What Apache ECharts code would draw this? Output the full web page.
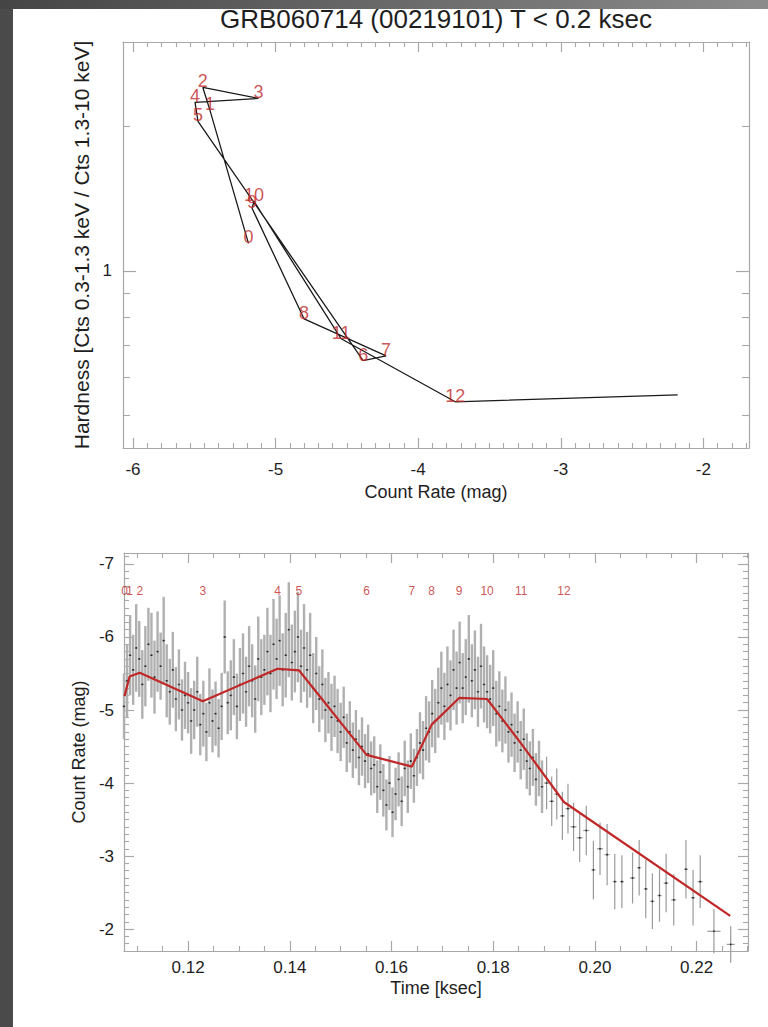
<!DOCTYPE html>
<html><head><meta charset="utf-8">
<script src="https://cdn.jsdelivr.net/npm/echarts@6/dist/echarts.min.js"></script>
<style>html,body{margin:0;padding:0;background:#fff}#c{width:768px;height:1027px}</style>
</head><body><div id="c"></div>
<script>
// ---------------- data ----------------
const titleText = 'GRB060714 (00219101) T < 0.2 ksec';
// segment vertices (labels 0..12 + end point)
const segLabels = ['0','1','2','3','4','5','6','7','8','9','10','11','12'];
const segRate = [-5.19,-5.46,-5.51,-5.12,-5.565,-5.544,-4.386,-4.225,-4.80,-5.165,-5.151,-4.54,-3.74,-2.18];
const segHardness = [1.140,2.155,2.405,2.282,2.239,2.045,0.650,0.665,0.794,1.349,1.395,0.722,0.534,0.552];
const segTime = [0.1075,0.1085,0.1105,0.1229,0.1376,0.1418,0.1551,0.1640,0.1679,0.1733,0.1788,0.1855,0.1939,0.2266];

// light curve
const lcTime = [
0.1074,0.1080,0.1086,0.1092,0.1098,0.1104,0.1110,0.1116,0.1122,0.1128,
0.1134,0.1140,0.1146,0.1152,0.1158,0.1164,0.1170,0.1176,0.1182,0.1188,
0.1194,0.1200,0.1206,0.1212,0.1218,0.1224,0.1230,0.1236,0.1242,0.1248,
0.1254,0.1260,0.1266,0.1272,0.1278,0.1284,0.1290,0.1296,0.1302,0.1308,
0.1314,0.1320,0.1326,0.1332,0.1338,0.1344,0.1350,0.1356,0.1362,0.1368,
0.1374,0.1380,0.1386,0.1392,0.1398,0.1404,0.1410,0.1416,0.1422,0.1428,
0.1434,0.1440,0.1446,0.1452,0.1458,0.1464,0.1470,0.1476,0.1482,0.1488,
0.1494,0.1500,0.1506,0.1512,0.1518,0.1524,0.1530,0.1536,0.1542,0.1548,
0.1554,0.1560,0.1566,0.1572,0.1578,0.1584,0.1590,0.1596,0.1602,0.1608,
0.1614,0.1620,0.1626,0.1632,0.1638,0.1644,0.1650,0.1656,0.1662,0.1668,
0.1674,0.1680,0.1686,0.1692,0.1698,0.1704,0.1710,0.1716,0.1722,0.1728,
0.1734,0.1740,0.1746,0.1752,0.1758,0.1764,0.1770,0.1776,0.1782,0.1788,
0.1794,0.1800,0.1806,0.1812,0.1818,0.1824,0.1830,0.1836,0.1842,0.1848,
0.1854,0.1860,0.1866,0.1872,0.1878,0.1884,0.1890,0.1896,
0.1905,0.1915,0.1925,0.1936,0.1947,0.1958,0.1970,0.1983,0.1997,0.2010,
0.2024,0.2039,0.2053,0.2074,0.2087,0.2100,0.2113,0.2127,0.2140,0.2155,
0.2179,0.2193,0.2207,0.2234,0.2267];
const lcMag = [
-5.05,-5.40,-5.75,-5.55,-5.85,-5.70,-5.35,-5.60,-5.90,-5.75,
-5.45,-5.80,-5.60,-5.95,-5.40,-5.25,-5.55,-5.15,-5.35,-5.00,
-5.20,-5.10,-4.85,-5.00,-5.25,-4.80,-4.95,-4.70,-5.10,-4.85,
-4.95,-4.75,-5.05,-6.00,-5.10,-5.20,-5.45,-5.05,-5.35,-5.50,
-5.25,-5.60,-5.40,-5.15,-5.70,-5.45,-5.55,-5.80,-5.50,-5.90,
-5.70,-5.95,-5.55,-5.75,-6.10,-5.65,-5.80,-6.00,-5.60,-5.85,
-5.55,-5.75,-5.30,-5.50,-5.15,-5.35,-5.00,-5.10,-4.90,-5.05,
-4.85,-4.70,-4.90,-4.55,-4.70,-4.45,-4.60,-4.35,-4.50,-4.30,
-4.40,-4.20,-4.25,-3.95,-4.15,-3.90,-3.70,-4.00,-3.60,-3.85,
-4.05,-3.75,-4.20,-3.95,-4.30,-4.10,-4.35,-4.55,-4.45,-4.75,
-4.70,-4.95,-4.85,-5.10,-5.30,-5.05,-5.35,-5.20,-5.55,-5.30,
-5.65,-5.30,-5.45,-5.70,-5.40,-5.55,-5.25,-5.60,-5.35,-5.25,
-5.15,-5.30,-4.95,-5.05,-4.85,-5.00,-4.70,-4.80,-4.55,-4.70,
-4.45,-4.60,-4.30,-4.20,-4.35,-4.05,-4.20,-3.95,
-4.00,-3.75,-3.85,-3.55,-3.65,-3.40,-3.25,-3.35,-2.81,-3.10,
-3.02,-2.65,-2.65,-2.70,-2.84,-2.55,-2.38,-2.46,-2.63,-2.40,
-2.82,-2.43,-2.65,-1.97,-1.79];
const lcErr = [
0.45,0.50,0.55,0.48,0.60,0.52,0.47,0.55,0.50,0.58,
0.50,0.55,0.46,0.60,0.50,0.45,0.52,0.44,0.48,0.42,
0.46,0.42,0.45,0.40,0.48,0.42,0.45,0.40,0.47,0.43,
0.44,0.40,0.46,0.50,0.43,0.48,0.52,0.45,0.50,0.55,
0.48,0.55,0.50,0.46,0.58,0.52,0.48,0.60,0.53,0.62,
0.55,0.62,0.50,0.58,0.65,0.52,0.56,0.62,0.50,0.60,
0.52,0.58,0.48,0.50,0.45,0.48,0.44,0.42,0.46,0.42,
0.44,0.40,0.42,0.40,0.42,0.38,0.40,0.38,0.40,0.37,
0.40,0.37,0.39,0.36,0.38,0.36,0.35,0.37,0.34,0.36,
0.37,0.34,0.38,0.36,0.38,0.37,0.39,0.42,0.40,0.44,
0.42,0.46,0.44,0.48,0.50,0.46,0.52,0.48,0.55,0.50,
0.56,0.48,0.52,0.60,0.50,0.54,0.48,0.58,0.52,0.50,
0.47,0.52,0.45,0.48,0.43,0.46,0.42,0.44,0.40,0.42,
0.40,0.42,0.38,0.37,0.39,0.36,0.38,0.36,
0.36,0.34,0.35,0.33,0.34,0.33,0.33,0.34,0.40,0.36,
0.42,0.38,0.36,0.35,0.38,0.40,0.38,0.36,0.40,0.35,
0.40,0.38,0.36,0.30,0.25];
const denseHalfWidth = 0.0003;
const tailHalfWidth = [0.0005,0.0005,0.0005,0.0005,0.0005,0.0006,0.0006,0.0006,0.0004,0.0006,
0.0005,0.0004,0.0004,0.0005,0.0004,0.0004,0.0004,0.0004,0.0005,0.0005,0.0004,0.0004,0.0005,0.0013,0.0008];

// axis ticks
const rateTicks = [-6,-5,-4,-3,-2];
const hardTicks = [1];
const hardMinorTicks = [0.5,0.6,0.7,0.8,0.9,2,3];
const timeTicks = [0.12,0.14,0.16,0.18,0.20,0.22];
const magTicks = [-7,-6,-5,-4,-3,-2];

// ---------------- style ----------------
const FONT = 'Liberation Sans, Arial, Helvetica, sans-serif';
const AX = '#a8a8a8';
const TXT = '#1e1e1e';
const RED = '#c02828';
const TICK_FS = 17;

function range(a, b, step, skip) {
  const out = [];
  for (let v = a; v <= b + step / 2; v += step) {
    const r = Math.round(v * 10000) / 10000;
    if (!skip.some(s => Math.abs(s - r) < step / 4)) out.push(r);
  }
  return out;
}
const rateMinor = range(-6.0, -1.7, 0.1, rateTicks);
const timeMinor = range(0.110, 0.230, 0.005, timeTicks);
const magMinor = range(-7.1, -1.7, 0.1, magTicks);

function axes(gridIndex, pos, o) {
  const common = {
    type: o.type, gridIndex, position: pos, min: o.min, max: o.max,
    inverse: !!o.inverse, splitLine: {show: false}, minorTick: {show: false},
    axisPointer: {show: false}, silent: true
  };
  if (o.type === 'log') common.logBase = 10;
  const major = Object.assign({}, common, {
    axisLine: {show: true, onZero: false, lineStyle: {color: AX, width: 1.2}},
    axisTick: {show: true, inside: true, length: o.majorLen, customValues: o.major, lineStyle: {color: AX, width: 1.2}},
    axisLabel: {show: !!o.labels, customValues: o.major, margin: o.margin || 8, color: TXT,
      fontSize: TICK_FS, fontFamily: FONT, formatter: o.fmt}
  });
  if (o.name) {
    Object.assign(major, {name: o.name, nameLocation: 'middle', nameGap: o.nameGap,
      nameRotate: o.nameRotate, nameTextStyle: {color: TXT, fontSize: o.nameSize, fontFamily: FONT}});
  }
  const minor = Object.assign({}, common, {
    axisLine: {show: false},
    axisTick: {show: true, inside: true, length: o.minorLen, customValues: o.minor, lineStyle: {color: AX, width: 1.1}},
    axisLabel: {show: false}
  });
  return [major, minor];
}

const topX = {type: 'value', min: -6.07, max: -1.68, major: rateTicks, minor: rateMinor, majorLen: 10, minorLen: 5};
const topY = {type: 'log', min: 0.428, max: 2.99, major: hardTicks, minor: hardMinorTicks, majorLen: 13, minorLen: 7};
const botX = {type: 'value', min: 0.1074, max: 0.2301, major: timeTicks, minor: timeMinor, majorLen: 10, minorLen: 5};
const botY = {type: 'value', min: -7.15, max: -1.70, inverse: true, major: magTicks, minor: magMinor, majorLen: 10, minorLen: 5};

const xAxes = [].concat(
  axes(0, 'bottom', Object.assign({}, topX, {labels: true, margin: 13, fmt: v => String(v),
    name: 'Count Rate (mag)', nameGap: 35, nameSize: 18})),
  axes(0, 'top', topX),
  axes(1, 'bottom', Object.assign({}, botX, {labels: true, margin: 8, fmt: v => v.toFixed(2),
    name: 'Time [ksec]', nameGap: 28, nameSize: 18})),
  axes(1, 'top', botX)
);
const yAxes = [].concat(
  axes(0, 'left', Object.assign({}, topY, {labels: true, margin: 11, fmt: v => String(v),
    name: 'Hardness [Cts 0.3-1.3 keV / Cts 1.3-10 keV]', nameGap: 25, nameRotate: 90, nameSize: 21})),
  axes(0, 'right', topY),
  axes(1, 'left', Object.assign({}, botY, {labels: true, margin: 10, fmt: v => String(v),
    name: 'Count Rate (mag)', nameGap: 27, nameRotate: 90, nameSize: 18})),
  axes(1, 'right', botY)
);

const hrLine = segRate.map((x, i) => [x, segHardness[i]]);
const hrLabelPts = segLabels.map((s, i) => [segRate[i], segHardness[i]]);
const nDense = lcTime.length - tailHalfWidth.length;
const lcData = lcTime.map((t, i) => [t, lcMag[i], lcErr[i],
  i < nDense ? denseHalfWidth : tailHalfWidth[i - nDense]]);
const redLine = segTime.map((t, i) => [t, segRate[i]]);
const LABEL_ROW = -6.57;
const timeLabelPts = segLabels.map((s, i) => [segTime[i], LABEL_ROW]);

const chart = echarts.init(document.getElementById('c'), null, {renderer: 'svg', width: 768, height: 1027});
chart.setOption({
  animation: false,
  backgroundColor: '#ffffff',
  grid: [
    {left: 123, top: 42, width: 626, height: 406},
    {left: 124, top: 553, width: 624, height: 398}
  ],
  xAxis: xAxes,
  yAxis: yAxes,
  graphic: [
    {type: 'rect', left: 0, top: 0, shape: {width: 13, height: 1027}, style: {fill: '#4a4a4a'}, silent: true},
    {type: 'rect', left: 0, top: 0, shape: {width: 768, height: 9},
      style: {fill: new echarts.graphic.LinearGradient(0, 0, 1, 0, [{offset: 0, color: '#454545'}, {offset: 1, color: '#8c8c8c'}])}, silent: true},
    {type: 'text', x: 436, y: 19, silent: true,
      style: {text: titleText, fill: TXT, font: '26px ' + FONT, textAlign: 'center', textVerticalAlign: 'middle'}}
  ],
  series: [
    {type: 'line', xAxisIndex: 0, yAxisIndex: 0, data: hrLine, symbol: 'none',
      lineStyle: {color: '#1a1a1a', width: 1.3}, silent: true, z: 2},
    {type: 'scatter', xAxisIndex: 0, yAxisIndex: 0, data: hrLabelPts, symbolSize: 1,
      itemStyle: {color: 'rgba(0,0,0,0)'}, silent: true, z: 3,
      label: {show: true, position: [0.5, 0.5], align: 'center', verticalAlign: 'bottom', offset: [0, 3],
        formatter: p => segLabels[p.dataIndex], color: RED, fontSize: 18, fontFamily: FONT}},
    {type: 'custom', xAxisIndex: 4, yAxisIndex: 4, data: lcData, silent: true, z: 2,
      encode: {x: 0, y: 1},
      renderItem: function (params, api) {
        const t = api.value(0), m = api.value(1), e = api.value(2), w = api.value(3);
        const a = api.coord([t, m - e]), b = api.coord([t, m + e]);
        const l = api.coord([t - w, m]), r = api.coord([t + w, m]);
        const c = api.coord([t, m]);
        const dense = w <= denseHalfWidth;
        return {type: 'group', children: [
          {type: 'line', shape: {x1: a[0], y1: a[1], x2: b[0], y2: b[1]},
            style: {stroke: dense ? '#b0b0b0' : '#9a9a9a', lineWidth: dense ? 2.4 : 1.2}},
          {type: 'line', shape: {x1: l[0], y1: l[1], x2: r[0], y2: r[1]}, style: {stroke: '#9a9a9a', lineWidth: 1.2}},
          {type: 'rect', shape: {x: c[0] - 0.8, y: c[1] - 0.8, width: 1.6, height: 1.6}, style: {fill: '#222'}}
        ]};
      }},
    {type: 'line', xAxisIndex: 4, yAxisIndex: 4, data: redLine, symbol: 'none',
      lineStyle: {color: RED, width: 2.2}, silent: true, z: 4},
    {type: 'scatter', xAxisIndex: 4, yAxisIndex: 4, data: timeLabelPts, symbolSize: 1,
      itemStyle: {color: 'rgba(0,0,0,0)'}, silent: true, z: 5,
      label: {show: true, position: [0.5, 0.5], align: 'center', verticalAlign: 'bottom', offset: [0, 2],
        formatter: p => segLabels[p.dataIndex], color: RED, fontSize: 12, fontFamily: FONT}}
  ]
});
</script>
</body></html>
